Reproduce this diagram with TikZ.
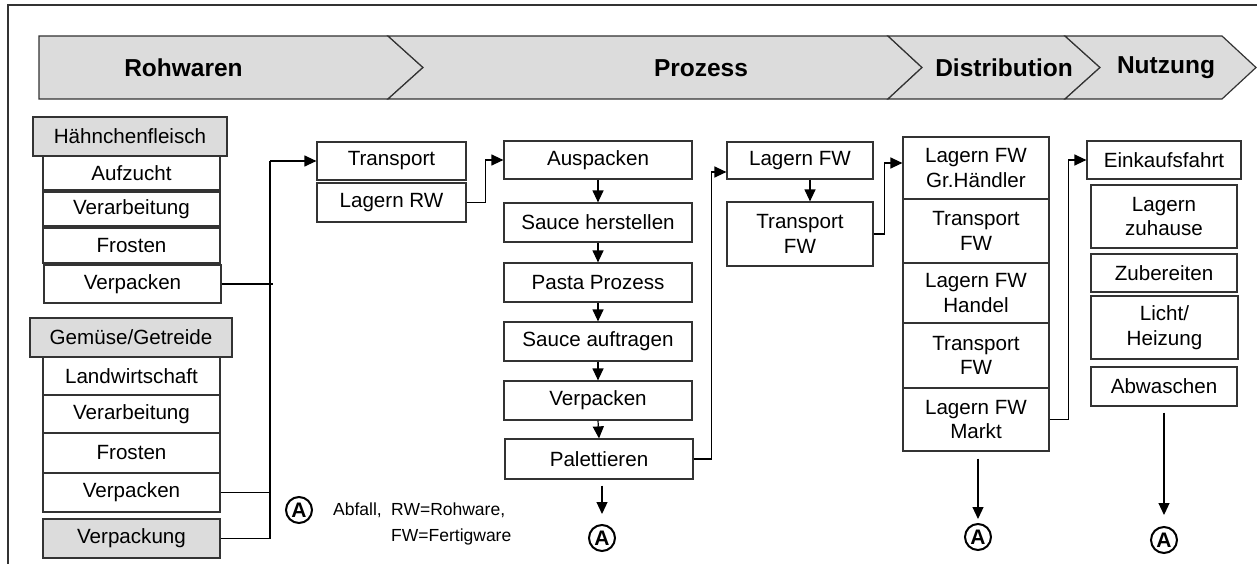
\documentclass[tikz,border=0pt]{standalone}
\usepackage{fontspec}
\setmainfont{Liberation Sans}
\usetikzlibrary{arrows.meta}
\definecolor{boxgray}{HTML}{DCDCDC}
\definecolor{linegray}{HTML}{333333}
\newcommand{\boxfont}{\fontsize{20.6}{24.5}\selectfont}
\newcommand{\bannerfont}{\fontsize{24.5}{28}\selectfont\bfseries}
\newcommand{\legfont}{\fontsize{17.5}{21}\selectfont}
\tikzset{
  box/.style={draw=linegray, line width=1.2pt, inner sep=0pt, align=center, font=\boxfont},
  graybox/.style={box, fill=boxgray},
  arr/.style={-{Triangle[length=12pt,width=11pt]}, line width=1.2pt},
  abf/.style={circle, draw, line width=2pt, inner sep=0pt, minimum size=26pt,
    font=\fontsize{21}{21}\selectfont\bfseries},
  legtext/.style={anchor=west, inner sep=0pt, font=\legfont},
}
\begin{document}
\begin{tikzpicture}[x=1pt,y=-1pt]
  \useasboundingbox (0,0) rectangle (1257,564);
  \draw[linegray, line width=1.2pt] (8,564) -- (8,5) -- (1257,5);
  % Phasen
  \draw[linegray, fill=boxgray, line width=1.2pt] (39,36) -- (388,36) -- (423,67.5) -- (388,99) -- (39,99) -- cycle;
  \draw[linegray, fill=boxgray, line width=1.2pt] (388,36) -- (888,36) -- (922,67.5) -- (888,99) -- (388,99) -- (423,67.5) -- cycle;
  \draw[linegray, fill=boxgray, line width=1.2pt] (888,36) -- (1065,36) -- (1100,67.5) -- (1065,99) -- (888,99) -- (922,67.5) -- cycle;
  \draw[linegray, fill=boxgray, line width=1.2pt] (1065,36) -- (1222,36) -- (1256,67.5) -- (1222,99) -- (1065,99) -- (1100,67.5) -- cycle;
  \node[font=\bannerfont] (rohw) at (183.5,68) {Rohwaren};
  \node[font=\bannerfont] (proz) at (701,68) {Prozess};
  \node[font=\bannerfont] (distr) at (1004,68) {Distribution};
  \node[font=\bannerfont] (nutz) at (1166,68) {Nutzung};
  % Rohwaren
  \node[graybox, minimum width=194pt, minimum height=39pt] (hfl) at (130,136.5) {Hähnchenfleisch};
  \node[box, minimum width=177pt, minimum height=34pt] (aufz) at (131.5,173) {Aufzucht};
  \node[box, minimum width=177pt, minimum height=34pt] (verh) at (131.5,209) {Verarbeitung};
  \node[box, minimum width=177pt, minimum height=35pt] (froh) at (131.5,245.5) {Frosten};
  \node[box, minimum width=177pt, minimum height=38pt] (verph) at (132.5,284) {Verpacken};
  \node[graybox, minimum width=202pt, minimum height=39pt] (ggt) at (131,337.5) {Gemüse/Getreide};
  \node[box, minimum width=177pt, minimum height=38pt] (lw) at (131.5,376) {Landwirtschaft};
  \node[box, minimum width=177pt, minimum height=38pt] (verg) at (131.5,414) {Verarbeitung};
  \node[box, minimum width=177pt, minimum height=40pt] (frog) at (131.5,453) {Frosten};
  \node[box, minimum width=177pt, minimum height=39pt] (verpg) at (131.5,492.5) {Verpacken};
  \node[graybox, minimum width=177pt, minimum height=39pt] (vpk) at (131.5,538.5) {Verpackung};
  \node[box, minimum width=149pt, minimum height=38pt] (trans) at (391.5,161) {Transport};
  \node[box, minimum width=149pt, minimum height=39pt] (lagrw) at (391.5,202.5) {Lagern RW};
  % Prozess
  \node[box, minimum width=188pt, minimum height=38pt] (ausp) at (598,160) {Auspacken};
  \node[box, minimum width=188pt, minimum height=39pt] (sauce) at (598,222.5) {Sauce herstellen};
  \node[box, minimum width=188pt, minimum height=39pt] (pasta) at (598,282.5) {Pasta Prozess};
  \node[box, minimum width=188pt, minimum height=39pt] (sauca) at (598,341.5) {Sauce auftragen};
  \node[box, minimum width=188pt, minimum height=39pt] (verpm) at (598,400.5) {Verpacken};
  \node[box, minimum width=188pt, minimum height=40pt] (pal) at (599,459) {Palettieren};
  \node[box, minimum width=146pt, minimum height=37pt] (lfw) at (800,160.5) {Lagern FW};
  \node[box, minimum width=146pt, minimum height=64pt] (tfw) at (800,234) {Transport\\FW};
  % Distribution
  \node[box, minimum width=146pt, minimum height=62pt] (gh) at (976,168) {Lagern FW\\Gr.Händler};
  \node[box, minimum width=146pt, minimum height=64pt] (tfwa) at (976,231) {Transport\\FW};
  \node[box, minimum width=146pt, minimum height=60pt] (handel) at (976,293) {Lagern FW\\Handel};
  \node[box, minimum width=146pt, minimum height=65pt] (tfwb) at (976,355.5) {Transport\\FW};
  \node[box, minimum width=146pt, minimum height=63pt] (markt) at (976,419.5) {Lagern FW\\Markt};
  % Nutzung
  \node[box, minimum width=154pt, minimum height=38pt] (eink) at (1164,160) {Einkaufsfahrt};
  \node[box, minimum width=146pt, minimum height=63pt] (lzh) at (1164,216.5) {Lagern\\zuhause};
  \node[box, minimum width=146pt, minimum height=38pt] (zub) at (1164,273) {Zubereiten};
  \node[box, minimum width=147pt, minimum height=63pt] (licht) at (1164.5,327.5) {Licht/\\Heizung};
  \node[box, minimum width=146pt, minimum height=39pt] (abw) at (1164,386.5) {Abwaschen};
  % Abfall
  \node[abf] (abf0) at (299,510) {A};
  \node[abf] (abf1) at (602,538) {A};
  \node[abf] (abf2) at (978,537) {A};
  \node[abf] (abf3) at (1164,540) {A};
  \node[legtext] (leg1) at (333,510) {Abfall,};
  \node[legtext] (leg2) at (391,510) {RW=Rohware,};
  \node[legtext] (leg3) at (391,537) {FW=Fertigware};
  % Verbindungen
  \coordinate (rwbus) at (270,161);
  \draw[line width=1.2pt] (verph.east) -- ([xshift=3pt]verph.east -| rwbus);
  \draw[line width=1.2pt] (verpg.east) -- (verpg.east -| rwbus);
  \draw[line width=1.2pt] (vpk.east) -| (rwbus);
  \draw[arr] (rwbus) -- (trans.west);
  \draw[arr] (lagrw.east) -- ++(19,0) |- (ausp.west);
  \foreach \a/\b in {ausp/sauce, sauce/pasta, pasta/sauca, sauca/verpm, verpm/pal}
    \draw[arr] (\a.south) -- (\b.north);
  \draw[arr] ([yshift=-6pt]pal.south -| abf1) -- ([yshift=10pt]abf1.north);
  \draw[arr] (pal.east) -- ++(18,0) |- ([yshift=-11.5pt]lfw.west);
  \draw[arr] ([xshift=10pt]lfw.south) -- ([xshift=10pt]tfw.north);
  \draw[arr] (tfw.east) -- ++(11,0) |- ([yshift=5pt]gh.west);
  \draw[arr] (markt.east) -- ++(19,0) |- (eink.west);
  \draw[arr] ([yshift=-7pt]markt.south -| abf2) -- ([yshift=4pt]abf2.north);
  \draw[arr] ([yshift=-6pt]abw.south) -- ([yshift=11pt]abf3.north);
\end{tikzpicture}
\end{document}
